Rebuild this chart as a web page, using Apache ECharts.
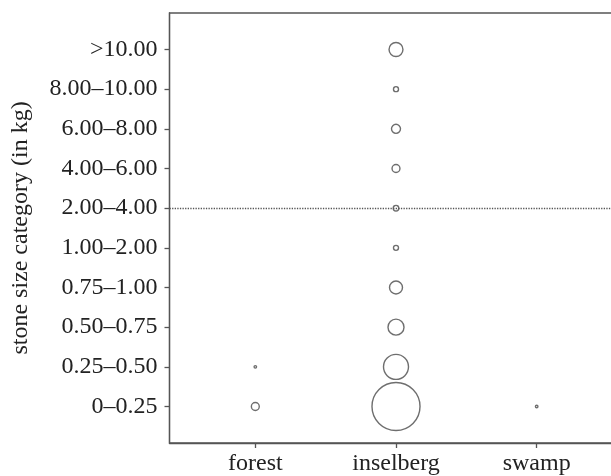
<!DOCTYPE html>
<html>
<head>
<meta charset="utf-8">
<script src="https://cdn.jsdelivr.net/npm/echarts@6/dist/echarts.min.js"></script>
<style>html,body{margin:0;padding:0;background:#fff;}#c{width:611px;height:476px;}</style>
</head>
<body>
<div id="c"></div>
<script>
// Data
var sites = ['forest', 'inselberg', 'swamp'];
var sizeCategories = ['0\u20130.25', '0.25\u20130.50', '0.50\u20130.75', '0.75\u20131.00', '1.00\u20132.00',
  '2.00\u20134.00', '4.00\u20136.00', '6.00\u20138.00', '8.00\u201310.00', '>10.00'];
// stone counts per size category (bottom to top)
var forestCounts    = [10, 1, 0, 0, 0, 0, 0, 0, 0, 0];
var inselbergCounts = [369, 100, 41, 27, 4, 5, 10, 13, 4, 31];
var swampCounts     = [1, 0, 0, 0, 0, 0, 0, 0, 0, 0];
var referenceCategory = '2.00\u20134.00';

var allCounts = [forestCounts, inselbergCounts, swampCounts];
var points = [];
allCounts.forEach(function (arr, si) {
  arr.forEach(function (v, ci) {
    if (v > 0) points.push([si, ci, v]);
  });
});

var font = 'Liberation Serif';
var chart = echarts.init(document.getElementById('c'), null, { renderer: 'canvas' });
chart.setOption({
  animation: false,
  backgroundColor: '#fff',
  grid: { left: 169.5, width: 453, top: 13, bottom: 33, outerBoundsMode: 'none', containLabel: false,
          show: true, borderColor: '#555', borderWidth: 1.3, backgroundColor: 'transparent' },
  xAxis: {
    type: 'value', min: -0.61, max: 2.61,
    splitLine: { show: false },
    axisLine: { show: true, onZero: false, lineStyle: { color: '#555', width: 1.3 } },
    axisTick: { show: true, length: 5, customValues: [0, 1, 2], lineStyle: { color: '#555', width: 1.3 } },
    axisLabel: {
      customValues: [0, 1, 2], margin: 9,
      formatter: function (v) { return sites[Math.round(v)]; },
      fontFamily: font, fontSize: 24, color: '#222'
    }
  },
  yAxis: {
    type: 'value', min: -0.92, max: 9.92,
    name: 'stone size category (in kg)', nameLocation: 'middle', nameGap: 137,
    nameTextStyle: { fontFamily: font, fontSize: 24, color: '#222' },
    splitLine: { show: false },
    axisLine: { show: true, onZero: false, lineStyle: { color: '#555', width: 1.3 } },
    axisTick: { show: true, length: 5, customValues: [0,1,2,3,4,5,6,7,8,9], lineStyle: { color: '#555', width: 1.3 } },
    axisLabel: {
      customValues: [0,1,2,3,4,5,6,7,8,9], margin: 12,
      formatter: function (v) { return sizeCategories[Math.round(v)]; },
      fontFamily: font, fontSize: 24, color: '#222'
    }
  },
  series: [{
    type: 'scatter',
    data: points,
    symbol: 'circle',
    symbolSize: function (d) { return 2.5 * Math.sqrt(d[2]); },
    itemStyle: { color: 'rgba(255,255,255,0)', borderColor: '#4a4a4a', borderWidth: 1.4 },
    markLine: {
      silent: true, symbol: 'none', label: { show: false },
      lineStyle: { color: '#555', type: 'dotted', width: 1.3 },
      data: [{ yAxis: sizeCategories.indexOf(referenceCategory) }]
    },
    z: 3
  }]
});
</script>
</body>
</html>
